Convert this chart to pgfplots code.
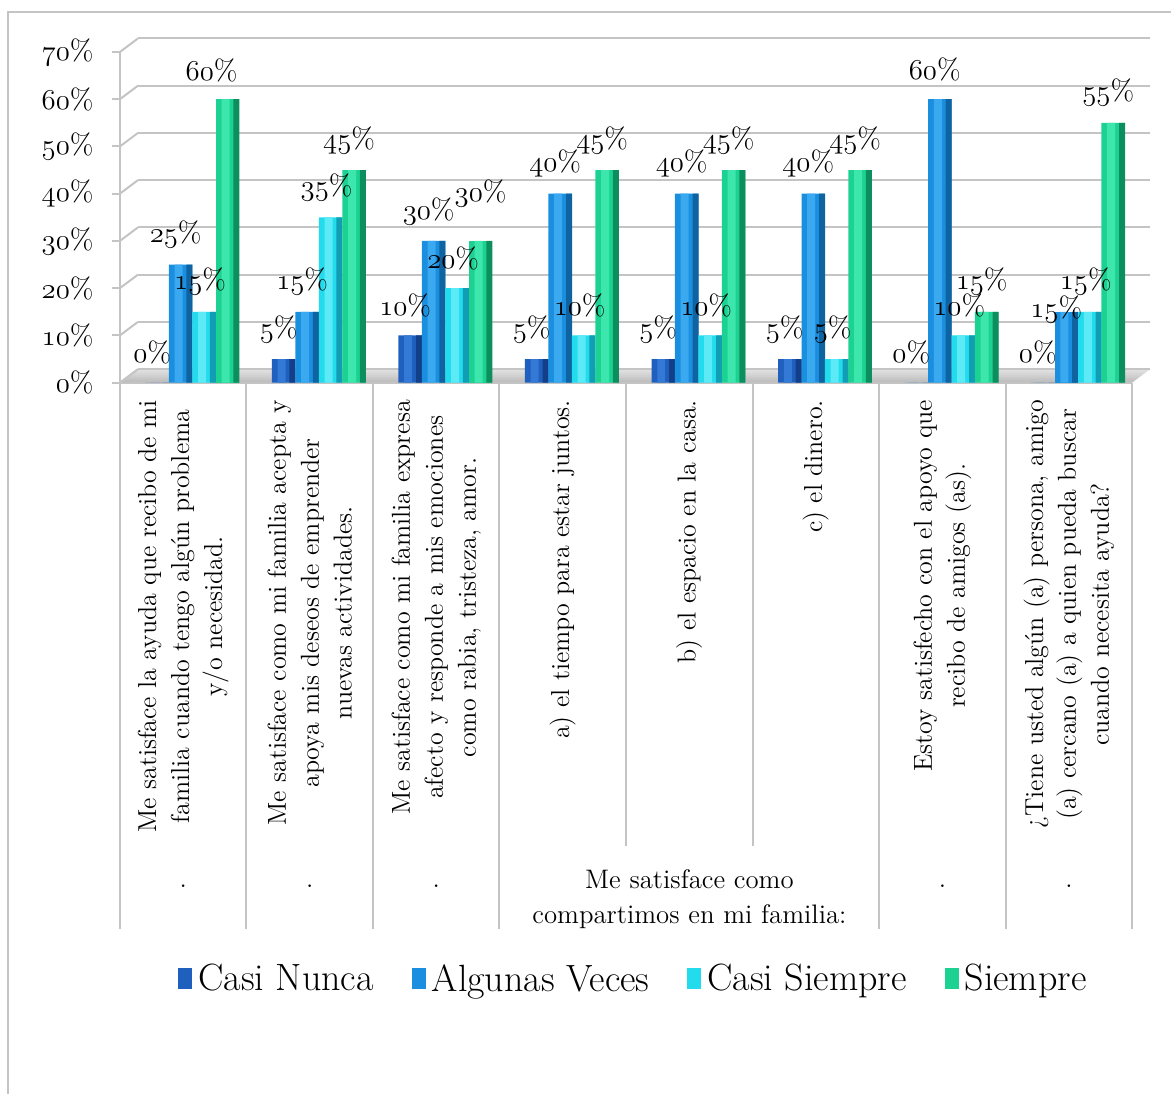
\documentclass[border=0pt]{standalone}
\usepackage{pgfplots}
\pgfplotsset{compat=1.18}
\newcommand\osf[1]{{\usefont{OML}{cmm}{m}{it}#1}}
\definecolor{cnA}{HTML}{1F5FBE}\definecolor{cnB}{HTML}{3479D6}\definecolor{cnC}{HTML}{123F88}
\definecolor{avA}{HTML}{1A8FE0}\definecolor{avB}{HTML}{3AA9F0}\definecolor{avC}{HTML}{0E63A0}
\definecolor{csA}{HTML}{22DCEE}\definecolor{csB}{HTML}{5CEBF6}\definecolor{csC}{HTML}{119DB3}
\definecolor{sA}{HTML}{1CD293}\definecolor{sB}{HTML}{3DE6AC}\definecolor{sC}{HTML}{0D8E5E}
\definecolor{lgray}{HTML}{C4C4C4}
\pgfplotsset{
  legimg/.style={legend image code/.code={\path[##1,draw=none] (0pt,-5pt) rectangle (7pt,5.5pt);}},
  lbl/.style 2 args={
    nodes near coords={\osf{\pgfmathprintnumber[assume math mode=true]{\pgfplotspointmeta}}\%},
    every node near coord/.append style={anchor=center, xshift=#1, yshift=#2,
      font=\fontsize{14.5}{16}\selectfont, inner sep=0pt, text=black}},
  side/.style={forget plot, draw=none, fill=#1, bar width=3pt},
  hl/.style={forget plot, draw=none, fill=#1, bar width=4pt}
}
\begin{document}
\begin{tikzpicture}
\begin{axis}[
  at={(60pt,-191.5pt)}, anchor=south west,
  scale only axis, width=506.5pt, height=165.5pt,
  xmin=-0.5, xmax=7.5, ymin=0, ymax=70,
  clip=false,
  set layers=standard,
  axis lines*=left,
  axis line style={draw=lgray, line width=1pt},
  xtick=\empty,
  ytick={0,10,20,30,40,50,60,70},
  yticklabels={\osf{0}\%,\osf{10}\%,\osf{20}\%,\osf{30}\%,\osf{40}\%,\osf{50}\%,\osf{60}\%,\osf{70}\%},
  yticklabel style={anchor=east, inner sep=0pt, xshift=-9pt, font=\fontsize{14.5}{16}\selectfont},
  tick align=outside, major tick length=4pt,
  tick style={draw=lgray, line width=1pt},
  ymajorgrids,
  major grid style={draw=lgray, line width=1pt, xshift=9pt, yshift=6.75pt},
  ybar, bar width=11.75pt,
  legend style={at={(0.5084,-1.8036)}, anchor=center, draw=none, fill=none,
    legend columns=4, font=\fontsize{19}{22}\selectfont,
    /tikz/every odd column/.append style={column sep=1pt},
    /tikz/every even column/.append style={column sep=17pt}},
]
\begin{pgfonlayer}{axis background}
\shade[top color=gray!22, bottom color=gray!55] (axis cs:-0.5,0) -- ++(9pt,6.75pt) -- ([xshift=9pt,yshift=6.75pt]axis cs:7.5,0) -- (axis cs:7.5,0) -- cycle;
\pgfplotsinvokeforeach{0,10,20,30,40,50,60,70}{
  \draw[lgray, line width=1pt] (axis cs:-0.5,#1) -- ++(9pt,6.75pt);
}
\end{pgfonlayer}
% Casi Nunca
\addplot[draw=none, fill=cnA, bar shift=-13pt, legimg, lbl={-2.5pt}{15pt}]
  coordinates {(0,0) (1,5) (2,10) (3,5) (4,5) (5,5) (6,0) (7,0)};
\addplot[hl=cnB, bar shift=-14pt]
  coordinates {(0,0) (1,5) (2,10) (3,5) (4,5) (5,5) (6,0) (7,0)};
\addplot[side=cnC, bar shift=-8.6pt]
  coordinates {(0,0) (1,5) (2,10) (3,5) (4,5) (5,5) (6,0) (7,0)};
% Algunas Veces
\addplot[draw=none, fill=avA, bar shift=-1.25pt, legimg, lbl={-2.5pt}{15pt}]
  coordinates {(0,25) (1,15) (2,30) (3,40) (4,40) (5,40) (6,60)};
\addplot[forget plot, draw=none, fill=avA, bar shift=-1.25pt, lbl={-5pt}{1pt}]
  coordinates {(7,15)};
\addplot[hl=avB, bar shift=-2.25pt]
  coordinates {(0,25) (1,15) (2,30) (3,40) (4,40) (5,40) (6,60) (7,15)};
\addplot[side=avC, bar shift=3.15pt]
  coordinates {(0,25) (1,15) (2,30) (3,40) (4,40) (5,40) (6,60) (7,15)};
% Casi Siempre
\addplot[draw=none, fill=csA, bar shift=10.5pt, legimg, lbl={-2pt}{15pt}]
  coordinates {(0,15) (1,35) (2,20) (3,10) (4,10) (5,5) (6,10) (7,15)};
\addplot[hl=csB, bar shift=9.5pt]
  coordinates {(0,15) (1,35) (2,20) (3,10) (4,10) (5,5) (6,10) (7,15)};
\addplot[side=csC, bar shift=14.9pt]
  coordinates {(0,15) (1,35) (2,20) (3,10) (4,10) (5,5) (6,10) (7,15)};
% Siempre
\addplot[draw=none, fill=sA, bar shift=22.25pt, legimg, lbl={-2.5pt}{15pt}]
  coordinates {(1,45) (3,45) (4,45) (5,45) (6,15) (7,55)};
\addplot[forget plot, draw=none, fill=sA, bar shift=22.25pt, lbl={-8pt}{14.5pt}]
  coordinates {(0,60)};
\addplot[forget plot, draw=none, fill=sA, bar shift=22.25pt, lbl={0pt}{24pt}]
  coordinates {(2,30)};
\addplot[hl=sB, bar shift=21.25pt]
  coordinates {(0,60) (1,45) (2,30) (3,45) (4,45) (5,45) (6,15) (7,55)};
\addplot[side=sC, bar shift=26.65pt]
  coordinates {(0,60) (1,45) (2,30) (3,45) (4,45) (5,45) (6,15) (7,55)};
\legend{Casi Nunca, Algunas Veces, Casi Siempre, Siempre}
\end{axis}
\draw[lgray, line width=1pt] (4pt,-547.5pt) -- (4pt,-6pt) -- (586pt,-6pt);
% separators of the category area
\foreach \xx in {60,123.3,186.6,249.9,439.9,503.2,566.5}{
  \draw[lgray, line width=1pt] (\xx pt,-191.5pt) -- (\xx pt,-465pt);
}
\foreach \xx in {313.25,376.6}{
  \draw[lgray, line width=1pt] (\xx pt,-191.5pt) -- (\xx pt,-423.5pt);
}
\tikzset{cat/.style={rotate=90, anchor=east, align=center, inner sep=0pt, font=\fontsize{13}{16.5}\selectfont}}
\node[cat] at (91.66pt,-200pt) {Me satisface la ayuda que recibo de mi\\familia cuando tengo algún problema\\y/o necesidad.};
\node[cat] at (155pt,-200pt) {Me satisface como mi familia acepta y\\apoya mis deseos de emprender\\nuevas actividades.};
\node[cat] at (218.3pt,-200pt) {Me satisface como mi familia expresa\\afecto y responde a mis emociones\\como rabia, tristeza, amor.};
\node[cat] at (281.6pt,-200pt) {a) el tiempo para estar juntos.};
\node[cat] at (344.9pt,-200pt) {b) el espacio en la casa.};
\node[cat] at (408.2pt,-200pt) {c) el dinero.};
\node[cat] at (471.6pt,-200pt) {Estoy satisfecho con el apoyo que\\recibo de amigos (as).};
\node[cat] at (534.9pt,-200pt) {¿Tiene usted algún (a) persona, amigo\\(a) cercano (a) a quien pueda buscar\\cuando necesita ayuda?};
\tikzset{lev/.style={inner sep=0pt, align=center, font=\fontsize{13.4}{17.5}\selectfont}}
\foreach \xx in {91.66,155,218.3,471.6,534.9}{
  \node[lev, anchor=base] at (\xx pt,-444pt) {.};
}
\node[lev, anchor=north] at (345pt,-435pt) {Me satisface como\\compartimos en mi familia:};
\path (0,0) rectangle (586pt,-547.5pt);
\end{tikzpicture}
\end{document}
